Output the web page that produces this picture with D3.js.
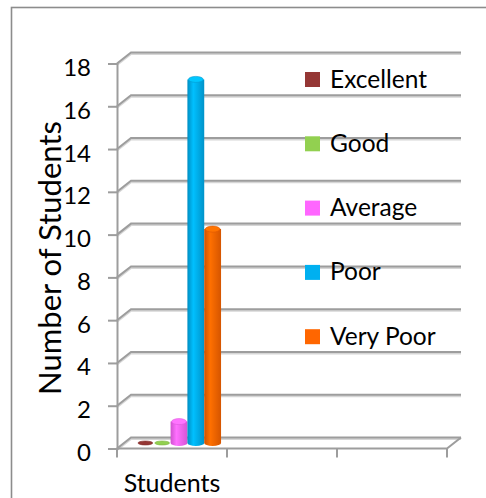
<!DOCTYPE html>
<html>
<head>
<meta charset="utf-8">
<style>
  body { margin: 0; background: #fff; }
  svg { display: block; font-family: Lato, "Open Sans", sans-serif; }
</style>
</head>
<body>
<svg width="486" height="498"></svg>
<script src="https://d3js.org/d3.v7.min.js"></script>
<script>
// data
var series = ["Excellent", "Good", "Average", "Poor", "Very Poor"];
var values = [0, 0, 1, 17, 10];
var colors = ["#953735", "#92d050", "#ff66ff", "#00b0f0", "#ff6600"];
var categories = ["Students", "", ""];
var yTicks = [0, 2, 4, 6, 8, 10, 12, 14, 16, 18];

// 3d depth offset of the back wall
var depth = { dx: 14, dy: -11 };

let svg = d3.select("svg");

// outer frame, runs off the right and bottom edges
svg.append("rect")
  .attr("x", 11.5).attr("y", 7.5)
  .attr("width", 520).attr("height", 540)
  .attr("fill", "none")
  .attr("stroke", "#8c8c8c")
  .attr("stroke-width", 1.6);

var x = d3.scaleBand()
  .domain(d3.range(categories.length))
  .range([117, 447])
  .padding(0);

var y = d3.scaleLinear()
  .domain([0, 18])
  .range([448.5, 63.5]);

var xs = d3.scaleBand()
  .domain(series)
  .range([0, x.bandwidth()])
  .paddingInner(0)
  .paddingOuter(0.77);

var defs = svg.append("defs");

// gridlines on back wall + slanted left wall segments
var grid = svg.append("g");
yTicks.forEach(function(t) {
  var yf = y(t), yb = y(t) + depth.dy;
  var x0 = x.range()[0], x1 = x.range()[1];
  // soft shadow under each line
  grid.append("path")
    .attr("d", "M" + x0 + "," + (yf + 1.5) + "L" + (x0 + depth.dx) + "," + (yb + 1.5) + "L" + (x1 + depth.dx) + "," + (yb + 1.5))
    .attr("fill", "none").attr("stroke", "#d6d6d6").attr("stroke-width", 2);
  grid.append("path")
    .attr("d", "M" + x0 + "," + yf + "L" + (x0 + depth.dx) + "," + yb + "L" + (x1 + depth.dx) + "," + yb)
    .attr("fill", "none").attr("stroke", "#9d9d9d").attr("stroke-width", 2);
});

// floor: right slanted edge and front edge
grid.append("path")
  .attr("d", "M" + x.range()[0] + "," + y(0) + "L" + x.range()[1] + "," + y(0) + "L" + (x.range()[1] + depth.dx) + "," + (y(0) + depth.dy))
  .attr("fill", "none").attr("stroke", "#9d9d9d").attr("stroke-width", 2);

// y axis
var yAxis = svg.append("g")
  .attr("transform", "translate(" + x.range()[0] + ",0)")
  .call(d3.axisLeft(y).tickValues(yTicks).tickSize(9).tickPadding(17));
yAxis.select(".domain").attr("stroke", "#9d9d9d").attr("stroke-width", 2);
yAxis.selectAll(".tick line").attr("stroke", "#9d9d9d").attr("stroke-width", 2);
yAxis.selectAll(".tick text")
  .attr("font-family", "Lato, sans-serif")
  .attr("font-size", 24)
  .attr("fill", "#000")
  .attr("dy", "0.5em");

// x axis: ticks at category boundaries
var xAxis = svg.append("g")
  .attr("transform", "translate(0," + y(0) + ")");
xAxis.selectAll("line.xt")
  .data(d3.range(categories.length + 1))
  .enter().append("line")
  .attr("class", "xt")
  .attr("x1", function(d) { return d < categories.length ? x(d) : x.range()[1]; })
  .attr("x2", function(d) { return d < categories.length ? x(d) : x.range()[1]; })
  .attr("y1", 0).attr("y2", 9)
  .attr("stroke", "#9d9d9d").attr("stroke-width", 2);
xAxis.selectAll("text.xl")
  .data(categories)
  .enter().append("text")
  .attr("class", "xl")
  .attr("x", function(d, i) { return x(i) + x.bandwidth() / 2; })
  .attr("y", 43)
  .attr("text-anchor", "middle")
  .attr("font-size", 25)
  .attr("fill", "#000")
  .text(function(d) { return d; });

// cylinders
series.forEach(function(s, i) {
  var c = d3.color(colors[i]);
  var grad = defs.append("linearGradient")
    .attr("id", "g" + i).attr("x1", 0).attr("x2", 1).attr("y1", 0).attr("y2", 0);
  grad.append("stop").attr("offset", "0%").attr("stop-color", c.darker(0.6));
  grad.append("stop").attr("offset", "35%").attr("stop-color", c.brighter(0.25));
  grad.append("stop").attr("offset", "100%").attr("stop-color", c.darker(0.5));
});

var bars = svg.append("g")
  .attr("transform", "translate(" + (depth.dx / 2) + "," + (depth.dy / 2) + ")");
var bw = xs.bandwidth();
var ry = 3;

series.forEach(function(s, i) {
  var cx = x(0) + xs(s) + xs.bandwidth() / 2;
  var yTop = y(values[i]), yBase = y(0);
  var g = bars.append("g");
  if (values[i] > 0) {
    g.append("path")
      .attr("d", "M" + (cx - bw / 2) + "," + yTop +
        "L" + (cx - bw / 2) + "," + yBase +
        "A" + (bw / 2) + "," + ry + " 0 0 0 " + (cx + bw / 2) + "," + yBase +
        "L" + (cx + bw / 2) + "," + yTop + "Z")
      .attr("fill", "url(#g" + i + ")");
  }
  g.append("ellipse")
    .attr("cx", cx).attr("cy", yTop)
    .attr("rx", bw / 2 - 1).attr("ry", values[i] > 0 ? ry : 2)
    .attr("fill", d3.color(colors[i]).brighter(values[i] > 0 ? 0.35 : 0))
    .attr("stroke", d3.color(colors[i]).darker(0.4))
    .attr("stroke-width", 0.6);
});

// y axis title
svg.append("text")
  .attr("transform", "translate(61,258) rotate(-90)")
  .attr("text-anchor", "middle")
  .attr("font-size", 31)
  .attr("fill", "#000")
  .text("Number of Students");

// legend
var legend = svg.append("g")
  .attr("transform", "translate(305,72)");
var li = legend.selectAll("g")
  .data(series)
  .enter().append("g")
  .attr("transform", function(d, i) { return "translate(0," + (i * 64.3) + ")"; });
li.append("rect")
  .attr("width", 15).attr("height", 15)
  .attr("fill", function(d, i) { return colors[i]; });
li.append("text")
  .attr("x", 25).attr("y", 15.5)
  .attr("font-size", 24.5)
  .attr("fill", "#000")
  .text(function(d) { return d; });
</script>
</body>
</html>
